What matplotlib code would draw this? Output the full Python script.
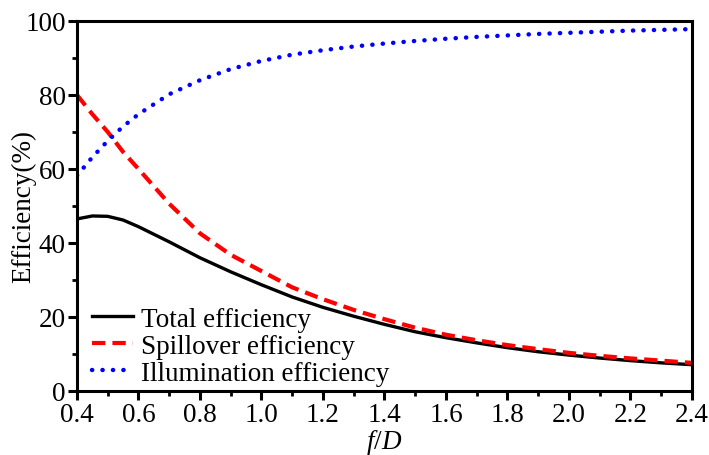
import matplotlib
matplotlib.use("Agg")
import matplotlib.pyplot as plt
from matplotlib.ticker import MultipleLocator

plt.rcParams["font.family"] = ["Liberation Serif", "DejaVu Serif"]
plt.rcParams["mathtext.fontset"] = "custom"
plt.rcParams["mathtext.it"] = "Liberation Serif:italic"
plt.rcParams["mathtext.rm"] = "Liberation Serif"

# f/D values
f_d = [0.40, 0.45, 0.50, 0.55, 0.60, 0.70, 0.80, 0.90, 1.00, 1.10, 1.20, 1.30,
       1.40, 1.50, 1.60, 1.70, 1.80, 1.90, 2.00, 2.10, 2.20, 2.30, 2.40]

total_eff = [46.5, 47.3, 47.2, 46.2, 44.4, 40.3, 36.0, 32.2, 28.7, 25.4, 22.6, 20.2,
             18.0, 16.0, 14.4, 13.0, 11.7, 10.6, 9.7, 8.9, 8.2, 7.6, 7.1]

spill_eff = [80.0, 74.8, 70.0, 64.6, 60.0, 50.6, 42.6, 36.8, 32.4, 28.0, 24.8, 21.9,
             19.4, 17.1, 15.2, 13.7, 12.4, 11.3, 10.3, 9.5, 8.8, 8.2, 7.6]

illum_eff = [58.2, 63.2, 67.6, 71.5, 74.8, 80.2, 84.0, 87.0, 89.2, 90.9, 92.1, 93.1,
             93.9, 94.6, 95.2, 95.7, 96.1, 96.5, 96.8, 97.1, 97.4, 97.6, 97.8]

fig = plt.figure(figsize=(7.09, 4.56), dpi=100)
ax = fig.add_axes([0.1086, 0.1404, 0.8674, 0.8114])

ax.plot(f_d, total_eff, color="black", linewidth=2.4, label="Total efficiency")
ax.plot(f_d, spill_eff, color="red", linewidth=3.0, linestyle=(0, (3.2, 1.7)),
        label="Spillover efficiency")
ax.plot(f_d, illum_eff, color="blue", linewidth=3.2, linestyle=(0, (0.05, 2.3)),
        dash_capstyle="round", label="Illumination efficiency")

ax.set_xlim(0.4, 2.4)
ax.set_ylim(0, 100)
ax.xaxis.set_major_locator(MultipleLocator(0.2))
ax.xaxis.set_minor_locator(MultipleLocator(0.1))
ax.yaxis.set_major_locator(MultipleLocator(20))
ax.yaxis.set_minor_locator(MultipleLocator(10))
ax.set_xticklabels([f"{v:.1f}" for v in ax.get_xticks()])

for s in ax.spines.values():
    s.set_linewidth(2.2)
ax.tick_params(which="major", direction="out", length=6.5, width=2.2, labelsize=19.5, pad=1.5)
ax.tick_params(which="minor", direction="out", length=3.5, width=2.0)
ax.tick_params(top=False, right=False)

ax.set_xlabel("$f$/$D$", fontsize=19.5)
ax.set_ylabel("Efficiency(%)", fontsize=19.5)
ax.xaxis.set_label_coords(0.5, -0.097)
ax.yaxis.set_label_coords(-0.066, 0.5)

ax.legend(loc="lower left", frameon=False, fontsize=19.5, handlelength=1.5,
          handletextpad=0.3, labelspacing=0.07, borderaxespad=0.0,
          bbox_to_anchor=(0.007, -0.015))

fig.savefig("out.png", dpi=100)
